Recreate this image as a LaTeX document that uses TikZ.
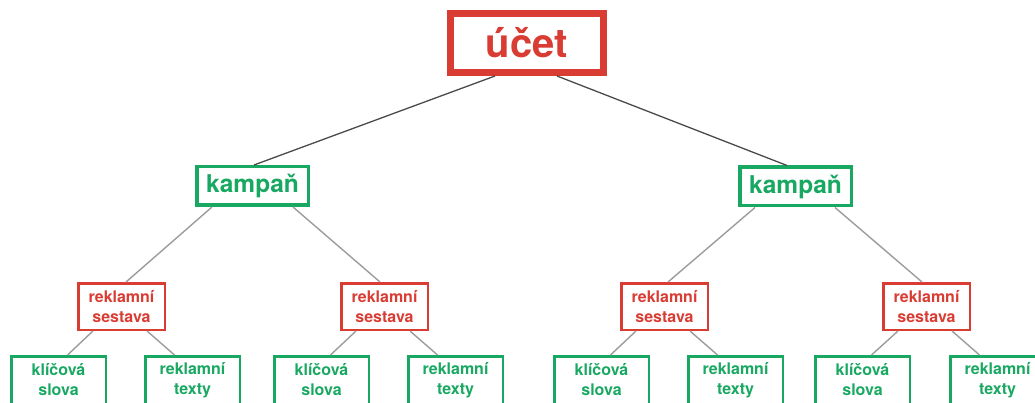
\documentclass[tikz,border=0pt]{standalone}
\usepackage{fontspec}
\setmainfont{TeX Gyre Heros}
\definecolor{cred}{HTML}{D93C33}
\definecolor{cgreen}{HTML}{19A862}
\definecolor{ldark}{HTML}{4A4A4A}
\definecolor{llight}{HTML}{9C9C9C}
\tikzset{
  rootbox/.style={draw=cred, line width=7pt, text=cred, inner sep=0pt,
    minimum width=153pt, minimum height=59pt, font=\fontsize{40}{44}\selectfont\bfseries},
  campbox/.style={draw=cgreen, line width=3.5pt, text=cgreen, inner sep=0pt,
    minimum width=111.5pt, minimum height=38.5pt, font=\fontsize{24.5}{28}\selectfont\bfseries},
  setbox/.style={draw=cred, line width=2.5pt, text=cred, inner sep=0pt, align=center,
    minimum width=86.5pt, minimum height=46.5pt, font=\fontsize{16}{20}\selectfont\bfseries},
  leafbox/.style={draw=cgreen, line width=2.5pt, text=cgreen, inner sep=0pt, align=center,
    minimum width=94.5pt, minimum height=47.5pt, font=\fontsize{16}{20}\selectfont\bfseries},
  topline/.style={draw=ldark, line width=1.3pt},
  lowline/.style={draw=llight, line width=1.4pt},
}
\begin{document}
\begin{tikzpicture}[x=1pt,y=-1pt]
\useasboundingbox (0,0) rectangle (1035,403);
\node[rootbox] (ucet) at (527,43) {účet};
\node[campbox] (k1) at (252.5,186) {kampaň};
\node[campbox] (k2) at (795.5,186.5) {kampaň};
\node[setbox] (s1) at (121.5,306.5) {reklamní\\sestava};
\node[setbox] (s2) at (384.5,306.5) {reklamní\\sestava};
\node[setbox] (s3) at (664.5,306.5) {reklamní\\sestava};
\node[setbox] (s4) at (926.5,306.5) {reklamní\\sestava};
\node[leafbox] (l1) at (58.5,380) {klíčová\\slova};
\node[leafbox] (l2) at (192.5,380) {reklamní\\texty};
\node[leafbox] (l3) at (321.5,380) {klíčová\\slova};
\node[leafbox] (l4) at (455.5,380) {reklamní\\texty};
\node[leafbox] (l5) at (601.5,380) {klíčová\\slova};
\node[leafbox] (l6) at (735.5,380) {reklamní\\texty};
\node[leafbox] (l7) at (862.5,380) {klíčová\\slova};
\node[leafbox] (l8) at (997.5,380) {reklamní\\texty};
\draw[topline] ([xshift=-32pt]ucet.south) -- ([xshift=1.5pt]k1.north);
\draw[topline] ([xshift=30pt]ucet.south) -- ([xshift=-8.5pt]k2.north);
\draw[lowline] ([xshift=-40.5pt]k1.south) -- ([xshift=4.5pt]s1.north);
\draw[lowline] ([xshift=40.5pt]k1.south) -- ([xshift=-4.5pt]s2.north);
\draw[lowline] ([xshift=-40.5pt]k2.south) -- ([xshift=3.5pt]s3.north);
\draw[lowline] ([xshift=39.5pt]k2.south) -- ([xshift=-4.5pt]s4.north);
\foreach \s/\a/\b in {s1/l1/l2, s2/l3/l4, s3/l5/l6, s4/l7/l8} {
  \draw[lowline] ([xshift=-28.5pt]\s.south) -- ([xshift=9pt]\a.north);
  \draw[lowline] ([xshift=25.5pt]\s.south) -- ([xshift=-18pt]\b.north);
}
\end{tikzpicture}
\end{document}
